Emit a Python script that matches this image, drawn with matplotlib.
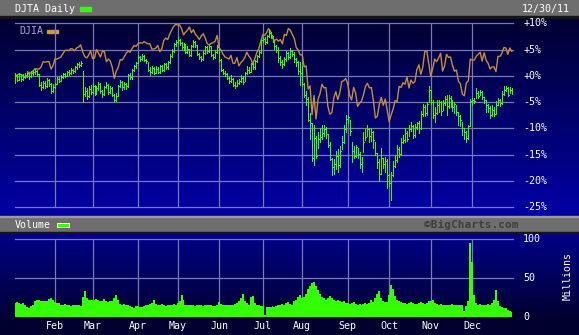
"""BigCharts-style DJTA daily 2011 chart with DJIA overlay and volume panel."""

import matplotlib

matplotlib.use("Agg")
import matplotlib.pyplot as plt
import numpy as np
import pandas as pd
from matplotlib.patches import Rectangle
from matplotlib.transforms import blended_transform_factory

W, H = 579, 335
GREEN = "#33ff00"
ORANGE = "#c98a3c"
GRID = "#7878b4"
HEADER = "#6e6e6e"
FONT = "DejaVu Sans Mono"

HOLIDAYS = ["2011-01-17", "2011-02-21", "2011-04-22", "2011-05-30",
            "2011-07-04", "2011-09-05", "2011-11-24", "2011-12-26"]
MONTH_LABELS = ["Feb", "Mar", "Apr", "May", "Jun", "Jul", "Aug", "Sep", "Oct", "Nov", "Dec"]
PCT_TICKS = [10, 5, 0, -5, -10, -15, -20, -25]
VOL_TICKS = [100, 50, 0]

# DJTA daily bars, % change from first close
djta_close = [
    0.0, -0.8, 0.3, -0.5, -0.2, 0.1, 0.5, -0.1, 0.6, 0.8, 1.0, 0.4, -1.8, -2.2, -1.4, -2.0, -0.8, -1.6, -2.8, -2.2,
    -1.5, -0.6, -0.9, -0.2, 0.3, 0.0, 0.8, 0.5, 1.2, 0.9, 1.6, 2.2, 2.0, 2.5, -3.5, -2.8, -3.9, -2.5, -3.0,
    -2.0, -3.2, -2.4, -1.6, -2.9, -3.5, -2.2, -1.8, -3.1, -2.4, -3.6, -4.5, -3.8, -2.0, -1.2, -2.2, -1.6, -2.0, 0.2, -0.3, 1.2, 1.8, 2.4,
    3.6, 3.2, 3.8, 3.0, 2.8, 1.2, 0.8, 1.5, 0.6, 1.4, 0.8, 1.8, 1.2, 2.2, 1.6, 2.6, 3.8, 4.8, 6.0, 6.4,
    6.8, 6.2, 5.4, 6.0, 4.6, 5.2, 4.0, 5.6, 6.4, 5.8, 4.2, 3.6, 3.2, 4.4, 5.4, 4.8, 5.6, 4.0, 3.6, 4.6, 5.4,
    3.0, 1.2, 0.6, 0.4, -0.4, -1.0, -0.6, -1.8, -2.0, -1.4, -1.0, -0.4, -1.2, 0.6, 1.2, 0.8, 2.2, 1.6, 2.8, 3.8, 4.6, 6.8,
    7.0, 6.4, 7.6, 8.2, 7.8, 6.8, 5.6, 5.0, 3.4, 2.6, 2.2, 3.2, 4.4, 3.6, 4.8, 4.2, 3.2, 2.6, 1.0, 0.6,
    -1.6, -3.6, -4.4, -8.4, -9.0, -15.6, -11.8, -15.2, -12.0, -11.6, -10.8, -10.2, -11.0, -13.2, -15.8, -17.4, -16.8, -15.2, -17.0, -14.2, -12.6, -10.2, -8.2,
    -7.8, -10.4, -14.2, -15.2, -13.6, -14.8, -16.8, -17.2, -12.6, -11.6, -10.2, -11.4, -10.6, -12.2, -14.6, -16.4, -18.6, -15.6, -16.8, -16.2, -18.8,
    -20.4, -18.8, -17.2, -16.0, -14.0, -14.8, -12.6, -12.2, -10.8, -12.0, -10.2, -9.6, -11.2, -9.8, -9.0, -10.0, -7.2, -6.0, -7.0, -5.4, -2.6,
    -5.0, -7.4, -7.0, -5.6, -5.0, -6.6, -5.2, -4.4, -5.8, -4.2, -5.0, -6.0, -5.4, -6.8, -7.6, -8.4, -10.0, -10.6, -11.8, -9.6, -4.8,
    -4.6, -4.8, -3.2, -3.8, -3.0, -4.0, -4.6, -5.6, -6.2, -7.4, -6.4, -7.2, -5.6, -4.6, -5.2, -3.4, -2.6, -2.4, -3.6, -2.6, -3.0,
]
djta_high = [
    0.6, 0.2, 0.6, 0.4, 0.3, 0.5, 0.9, 0.6, 0.9, 1.1, 1.3, 1.1, 0.3, -1.2, -0.9, -1.0, -0.4, -0.6, -1.4, -1.6,
    -1.3, -0.3, -0.3, 0.1, 0.6, 0.6, 1.0, 1.1, 1.5, 1.4, 1.8, 2.5, 2.6, 2.8, 1.0, -2.2, -2.4, -2.0, -1.8,
    -1.4, -1.8, -1.9, -1.2, -1.4, -2.6, -2.0, -1.2, -1.6, -2.0, -2.2, -3.4, -3.2, -1.8, -0.8, -1.0, -1.2, -1.4, 0.4, 0.5, 1.4, 2.0, 2.7,
    4.0, 3.8, 4.2, 3.9, 3.3, 2.7, 1.6, 1.8, 1.6, 1.8, 1.7, 2.1, 2.0, 2.5, 2.4, 2.8, 4.1, 5.2, 6.3, 6.9,
    7.4, 7.0, 6.4, 6.3, 6.0, 5.6, 5.2, 5.9, 6.8, 6.6, 5.8, 4.4, 3.8, 4.7, 5.7, 5.6, 5.9, 5.6, 4.2, 4.9, 5.8,
    5.2, 3.2, 1.4, 1.0, 0.5, -0.2, 0.1, -0.4, -1.2, -0.8, -0.6, 0.2, 0.0, 0.8, 1.9, 1.6, 2.5, 2.4, 3.1, 4.0, 5.0, 7.2,
    7.4, 7.3, 7.8, 8.7, 8.4, 7.6, 6.6, 5.9, 5.5, 3.8, 3.0, 3.6, 4.8, 4.5, 5.3, 5.0, 4.6, 3.4, 2.8, 2.7,
    1.8, -1.4, -2.8, -4.0, -7.0, -9.0, -9.4, -11.4, -10.6, -10.0, -9.4, -9.3, -9.8, -11.0, -12.6, -15.6, -15.8, -14.2, -14.0, -13.4, -11.4, -9.4, -7.4,
    -7.4, -8.4, -12.5, -13.4, -13.2, -13.8, -14.4, -15.4, -10.6, -10.2, -9.3, -10.0, -9.9, -10.4, -12.5, -14.6, -15.8, -13.7, -15.6, -15.4, -15.8,
    -18.6, -18.2, -16.2, -15.0, -13.2, -13.6, -11.8, -11.2, -10.0, -10.4, -9.4, -8.8, -9.4, -9.2, -8.7, -8.6, -6.6, -5.4, -5.6, -4.9, -2.0,
    -2.6, -4.6, -6.0, -4.6, -4.6, -4.8, -4.6, -3.8, -3.6, -3.6, -3.8, -4.6, -5.0, -5.5, -6.8, -7.4, -8.7, -9.9, -10.4, -9.4, -4.4,
    -4.2, -4.2, -2.4, -2.8, -2.6, -2.8, -4.0, -4.6, -5.4, -5.8, -5.5, -6.0, -4.8, -4.2, -4.4, -2.8, -2.0, -2.0, -2.2, -2.2, -2.4,
]
djta_low = [
    -1.3, -1.0, -0.8, -0.9, -0.8, -0.4, -0.2, -0.5, -0.3, 0.2, 0.4, 0.0, -2.0, -2.6, -2.4, -2.3, -2.1, -1.9, -3.2, -3.0,
    -2.4, -1.6, -1.2, -1.0, -0.4, -0.3, 0.0, 0.2, 0.4, 0.5, 0.8, 1.4, 1.7, 1.8, -5.0, -3.8, -4.4, -4.0, -3.4,
    -3.2, -3.6, -3.4, -2.6, -3.2, -4.0, -3.7, -2.4, -3.4, -3.3, -3.9, -5.0, -4.8, -3.9, -2.2, -2.6, -2.5, -2.5, -2.1, -0.6, -0.5, 1.0, 1.5,
    2.4, 2.8, 3.0, 2.8, 2.5, 1.0, 0.2, 0.6, 0.3, 0.5, 0.6, 0.6, 0.9, 1.0, 1.3, 1.4, 2.4, 3.6, 4.6, 5.6,
    6.2, 5.8, 5.0, 5.0, 4.3, 4.4, 3.8, 3.8, 5.4, 5.4, 4.0, 3.2, 2.9, 3.0, 4.2, 4.4, 4.6, 3.7, 3.2, 3.4, 4.4,
    2.8, 1.0, 0.3, 0.0, -0.6, -1.3, -1.2, -2.0, -2.4, -2.0, -1.6, -1.2, -1.5, -1.0, 0.4, 0.5, 0.7, 1.3, 1.4, 2.6, 3.6, 4.4,
    6.4, 6.0, 6.2, 7.4, 7.2, 6.4, 5.2, 4.6, 2.6, 2.0, 1.5, 2.0, 2.9, 3.2, 3.4, 3.8, 2.6, 1.9, 0.4, -1.7,
    -2.0, -4.0, -5.6, -8.6, -12.0, -16.2, -16.9, -15.6, -13.8, -12.6, -12.0, -11.4, -11.8, -13.6, -16.0, -18.8, -18.6, -17.8, -18.3, -17.4, -14.0, -12.8, -10.6,
    -9.0, -11.2, -16.3, -15.6, -15.4, -15.6, -17.6, -18.2, -14.4, -12.2, -11.4, -12.5, -12.4, -13.7, -15.0, -17.5, -20.0, -18.6, -17.6, -18.2, -21.3,
    -21.0, -23.6, -19.0, -17.4, -16.3, -15.4, -14.8, -12.8, -12.5, -12.4, -11.4, -10.4, -11.8, -11.6, -10.2, -10.8, -10.2, -7.6, -7.6, -7.4, -5.0,
    -5.4, -8.0, -8.7, -7.2, -6.8, -7.4, -6.4, -5.6, -7.4, -6.2, -6.0, -6.6, -7.0, -7.4, -9.3, -9.6, -11.2, -12.0, -12.5, -12.0, -9.6,
    -5.5, -5.2, -4.2, -4.2, -3.6, -4.4, -5.2, -6.8, -6.8, -8.0, -7.6, -7.6, -7.2, -5.6, -5.8, -5.4, -3.6, -2.8, -3.8, -3.2, -3.4,
]

# DJIA close, % change from first close
djia_close = [
    0.0, 0.2, 0.4, 0.2, 0.0, -0.3, 0.0, 0.7, 0.5, 1.0, 1.4, 1.3, 1.3, 1.7, 2.7, 2.6, 2.7, 2.7, 1.3, 1.9,
    3.2, 3.2, 3.4, 3.6, 4.2, 4.8, 4.9, 4.8, 5.2, 5.1, 4.8, 5.3, 5.5, 5.9, 4.6, 3.7, 3.4, 3.9, 4.8,
    3.3, 3.4, 5.0, 4.3, 3.6, 4.7, 4.6, 2.7, 3.2, 2.8, 1.6, -0.5, 0.9, 1.6, 3.1, 3.0, 3.6, 4.3, 4.7, 4.5, 5.2, 5.8, 5.6,
    6.1, 6.3, 6.2, 6.5, 6.3, 6.1, 6.1, 5.1, 5.1, 5.3, 5.8, 4.6, 5.1, 6.7, 7.2, 6.9, 7.9, 8.7, 9.4, 9.8,
    9.7, 9.7, 9.0, 7.8, 8.3, 8.7, 9.3, 8.2, 8.8, 7.9, 7.5, 6.9, 7.6, 8.0, 7.2, 6.1, 5.9, 6.2, 6.3, 6.6, 7.7,
    5.3, 4.9, 4.1, 3.6, 3.4, 3.2, 3.9, 2.4, 2.4, 3.5, 1.9, 2.5, 2.9, 3.5, 4.5, 3.8, 3.3, 2.3, 3.2, 4.4, 5.1, 6.4,
    7.8, 7.7, 8.2, 9.0, 8.5, 7.2, 6.7, 7.0, 6.6, 6.9, 6.1, 7.9, 7.7, 9.0, 8.7, 7.9, 7.1, 5.4, 4.9, 4.0,
    4.0, 1.7, 1.9, -2.5, -1.9, -7.4, -3.7, -8.2, -4.5, -3.4, -1.6, -2.3, -2.2, -5.8, -7.3, -7.0, -4.2, -3.0, -4.5, -3.3, -1.1, -0.9, -0.5,
    -1.5, -3.7, -4.6, -2.2, -3.2, -5.8, -5.2, -4.8, -3.6, -2.0, -1.4, -2.3, -2.2, -4.7, -8.0, -7.7, -5.4, -4.1, -5.6, -4.4, -6.5,
    -8.7, -7.4, -6.3, -4.7, -4.9, -2.0, -2.2, -1.3, -1.6, -0.2, -2.3, -0.8, -1.4, -1.1, 1.2, 2.1, 0.3, 1.7, 4.6, 4.8, 2.4,
    -0.1, 1.4, 3.2, 2.7, 3.4, 4.3, 0.9, 1.9, 4.1, 3.5, 3.6, 2.0, 0.9, 1.1, -1.0, -1.5, -3.5, -3.8, -1.3, -1.0, 3.2,
    3.0, 3.0, 3.7, 4.1, 4.5, 2.8, 4.4, 3.0, 2.4, 1.3, 1.7, 1.7, 0.8, 3.7, 3.7, 4.3, 5.4, 5.3, 4.1, 5.3, 4.7,
]

# volume, millions
volume = [
    18, 19, 18, 17, 18, 16, 13, 12, 14, 16, 21, 22, 22, 21, 20, 20, 20, 23, 25, 22,
    19, 18, 18, 16, 15, 17, 16, 15, 14, 16, 15, 16, 15, 14, 26, 33, 25, 22, 22,
    22, 22, 23, 22, 21, 20, 23, 21, 19, 20, 21, 24, 28, 22, 17, 16, 17, 15, 16, 14, 13, 12, 14,
    14, 13, 13, 14, 15, 16, 17, 18, 22, 17, 16, 15, 17, 15, 14, 16, 15, 15, 17, 16,
    18, 21, 28, 22, 16, 15, 15, 16, 15, 14, 16, 15, 16, 14, 15, 16, 15, 16, 14, 14, 15,
    19, 17, 16, 15, 15, 15, 16, 16, 17, 18, 20, 24, 30, 20, 18, 16, 26, 27, 18, 16, 15, 14,
    14, 3, 13, 13, 13, 14, 13, 14, 15, 16, 17, 16, 18, 19, 17, 16, 20, 22, 26, 28,
    24, 26, 30, 36, 40, 44, 45, 40, 35, 30, 26, 24, 22, 25, 27, 24, 22, 21, 22, 20, 19, 20, 18,
    18, 17, 18, 19, 17, 16, 17, 16, 17, 18, 17, 18, 22, 19, 24, 29, 33, 25, 20, 19, 19,
    28, 41, 36, 27, 22, 20, 19, 18, 18, 17, 18, 19, 18, 17, 17, 18, 19, 18, 17, 18, 20,
    21, 22, 18, 17, 16, 17, 16, 16, 15, 16, 15, 17, 15, 16, 16, 15, 16, 8, 14, 20, 95,
    70, 28, 18, 16, 17, 16, 15, 16, 17, 16, 18, 22, 34, 20, 14, 13, 12, 12, 9, 8, 7,
]


def hex_rgb(c):
    c = c.lstrip("#")
    return np.array([int(c[i:i + 2], 16) / 255 for i in (0, 2, 4)])


def gradient(ax, y0, y1, c0, c1):
    t = np.linspace(0, 1, 200)[:, None, None]
    img = hex_rgb(c0) * (1 - t) + hex_rgb(c1) * t
    ax.imshow(img, extent=(0, W, y1, y0), aspect="auto", origin="upper",
              interpolation="bilinear", zorder=0)


def px_axes(fig, x0, y0, x1, y1):
    return fig.add_axes([x0 / W, 1 - y1 / H, (x1 - x0) / W, (y1 - y0) / H])


days = pd.bdate_range("2011-01-03", "2011-12-30")
days = days[~days.isin(pd.to_datetime(HOLIDAYS))]
x = np.arange(len(days))
month_starts = [i for i in range(1, len(days)) if days[i].month != days[i - 1].month]

plt.rcParams["font.family"] = FONT
fig = plt.figure(figsize=(W / 100, H / 100), dpi=100)

# background / frame in pixel coordinates
bg = fig.add_axes([0, 0, 1, 1])
bg.set_xlim(0, W)
bg.set_ylim(H, 0)
bg.set_axis_off()
gradient(bg, 17, 216, "#000030", "#0000a6")
gradient(bg, 232, 318, "#00008c", "#000030")
bg.add_patch(Rectangle((0, 318), W, H - 318, color="#00002e", zorder=1))
bg.add_patch(Rectangle((0, 0), W, 16, color=HEADER, zorder=1))
bg.add_patch(Rectangle((0, 16), W, 1.5, color="#151515", zorder=1))
bg.add_patch(Rectangle((0, 216.5), W, 15.5, color=HEADER, zorder=1))
bg.add_patch(Rectangle((0, 216), W, 1, color="#9a9a9a", zorder=1))
bg.add_patch(Rectangle((0, 231.5), W, 1.5, color="#151515", zorder=1))

bg.text(15, 9, "DJTA Daily", color="white", fontsize=7.2, va="center", zorder=3)
bg.add_patch(Rectangle((80, 7), 11, 3.5, color=GREEN, zorder=3))
bg.text(570, 9, "12/30/11", color="white", fontsize=7.2, va="center", ha="right", zorder=3)
bg.text(19, 31, "DJIA", color="#a8a8d8", fontsize=7.2, va="center", zorder=3)
bg.add_patch(Rectangle((47, 29.8), 11, 3, color="#d09a40", zorder=3))
bg.text(15, 225, "Volume", color="white", fontsize=7.2, va="center", zorder=3)
bg.add_patch(Rectangle((56.5, 222.5), 12, 4.5, facecolor=GREEN, edgecolor="white", lw=0.7, zorder=3))
bg.text(471, 224.5, "\u00a9BigCharts.com", color="#3e3e3e", fontsize=8, fontweight="bold",
        va="center", ha="center", zorder=3)
bg.text(568, 276, "Millions", color="white", fontsize=7.2, rotation=90, va="center", ha="center", zorder=3)

# price panel
ax = px_axes(fig, 15, 23.3, 513, 207.3)
ax.set_axis_off()
ax.set_xlim(-0.2, len(x) - 0.4)
ax.set_ylim(-25, 10)
for v in PCT_TICKS:
    ax.axhline(v, color=GRID, lw=0.9, clip_on=False, zorder=1)
for i in month_starts:
    ax.axvline(i, color=GRID, lw=0.9, zorder=1)
ax.plot(x, djia_close, color=ORANGE, lw=1.0, zorder=2)
ax.vlines(x, djta_low, djta_high, color=GREEN, lw=0.72, zorder=3, antialiased=False)
ax.hlines(djta_close, x, x + 0.5, color=GREEN, lw=0.72, zorder=3, antialiased=False)
tr = blended_transform_factory(ax.transAxes, ax.transData)
for v in PCT_TICKS:
    ax.text(1.0205, v, f"{v:+d}%", transform=tr, color="white", fontsize=7.2,
            va="center", ha="left", clip_on=False)

# volume panel
axv = px_axes(fig, 15, 239, 513, 317)
axv.set_axis_off()
axv.set_xlim(-0.2, len(x) - 0.4)
axv.set_ylim(0, 100)
for v in VOL_TICKS[:-1]:
    axv.axhline(v, color=GRID, lw=0.9, clip_on=False, zorder=1)
for i in month_starts:
    axv.axvline(i, color=GRID, lw=0.9, zorder=1)
axv.fill_between(x, volume, step="mid", color=GREEN, lw=0, zorder=2)
trv = blended_transform_factory(axv.transAxes, axv.transData)
for v in VOL_TICKS:
    axv.text(1.0205, v, str(v), transform=trv, color="white", fontsize=7.2,
             va="center", ha="left", clip_on=False)
trm = blended_transform_factory(axv.transData, axv.transAxes)
for i, lab in zip(month_starts, MONTH_LABELS):
    axv.text(i, -0.115, lab, transform=trm, color="white", fontsize=7.2,
             va="center", ha="center", clip_on=False)

fig.savefig("out.png", dpi=100)
